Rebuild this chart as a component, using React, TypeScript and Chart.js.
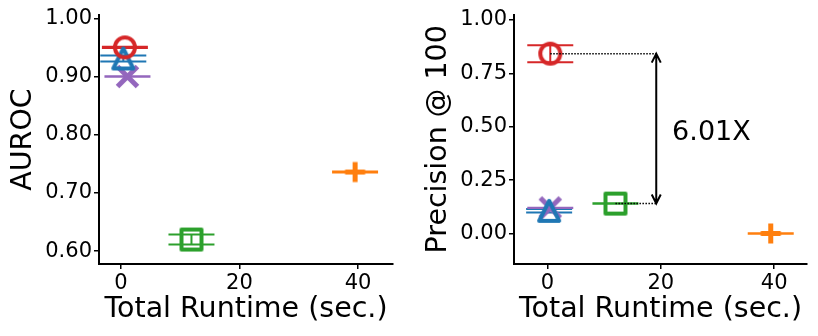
import React, { useEffect, useRef } from 'react';
import { Chart, registerables } from 'chart.js';

Chart.register(...registerables);

// ---- data ----
const SERIES_NAMES = ['Method A', 'Method B', 'Method C', 'Method D', 'Method E'];
const SERIES_COLORS = ['#d62728', '#1f77b4', '#9467bd', '#2ca02c', '#ff7f0e'];
const SERIES_MARKERS = ['circle', 'triangle', 'x', 'square', 'plus'];

const AUROC_RUNTIME = [0.67, 0.4, 1.1, 11.9, 39.5];
const AUROC_VALUES = [0.95, 0.931, 0.9, 0.62, 0.736];
const AUROC_ERRORS = [0.001, 0.005, 0.0005, 0.0085, 0.001];

const PREC_RUNTIME = [0.5, 0.3, 0.5, 12.0, 39.4];
const PREC_VALUES = [0.842, 0.106, 0.12, 0.14, 0.0];
const PREC_ERRORS = [0.04, 0.008, 0.001, 0.001, 0.001];

const X_TICKS = [0, 20, 40];
const AUROC_TICKS = [0.6, 0.7, 0.8, 0.9, 1.0];
const PREC_TICKS = [0, 0.25, 0.5, 0.75, 1.0];

const X_TITLE = 'Total Runtime (sec.)';
const AUROC_TITLE = 'AUROC';
const PREC_TITLE = 'Precision @ 100';

const SPEEDUP_LABEL = '6.01X';
const SPEEDUP_ARROW_X = 19.2;
const SPEEDUP_LABEL_X = 22.0;
const SPEEDUP_LABEL_Y = 0.47;

const FONT = "'DejaVu Sans', sans-serif";

function makeMarker(kind: string, color: string): HTMLCanvasElement {
  const S = 20;
  const lw = kind === 'x' || kind === 'plus' ? 5 : 4;
  const dim = Math.ceil(S + lw + 6);
  const c = document.createElement('canvas');
  c.width = dim;
  c.height = dim;
  const ctx = c.getContext('2d')!;
  ctx.strokeStyle = color;
  ctx.lineWidth = lw;
  ctx.lineJoin = 'round';
  ctx.lineCap = 'butt';
  const m = dim / 2;
  const h = S / 2;
  ctx.beginPath();
  if (kind === 'circle') {
    ctx.arc(m, m, h, 0, Math.PI * 2);
  } else if (kind === 'triangle') {
    ctx.moveTo(m, m - h);
    ctx.lineTo(m + h, m + h);
    ctx.lineTo(m - h, m + h);
    ctx.closePath();
  } else if (kind === 'square') {
    ctx.rect(m - h, m - h, S, S);
  } else if (kind === 'x') {
    ctx.moveTo(m - h, m - h);
    ctx.lineTo(m + h, m + h);
    ctx.moveTo(m + h, m - h);
    ctx.lineTo(m - h, m + h);
  } else {
    ctx.moveTo(m - h, m);
    ctx.lineTo(m + h, m);
    ctx.moveTo(m, m - h);
    ctx.lineTo(m, m + h);
  }
  ctx.stroke();
  return c;
}

const errorBarPlugin = {
  id: 'errorBars',
  beforeDatasetsDraw(chart: any) {
    const { ctx } = chart;
    const xs = chart.scales.x;
    const ys = chart.scales.y;
    ctx.save();
    chart.data.datasets.forEach((ds: any) => {
      const err = ds.yErr as number;
      ds.data.forEach((p: any) => {
        const px = xs.getPixelForValue(p.x);
        const top = ys.getPixelForValue(p.y + err);
        const bot = ys.getPixelForValue(p.y - err);
        ctx.strokeStyle = ds.borderColor;
        ctx.lineWidth = 2;
        ctx.lineCap = 'butt';
        ctx.beginPath();
        ctx.moveTo(px, top);
        ctx.lineTo(px, bot);
        const cap = 23;
        ctx.moveTo(px - cap, top);
        ctx.lineTo(px + cap, top);
        ctx.moveTo(px - cap, bot);
        ctx.lineTo(px + cap, bot);
        ctx.stroke();
      });
    });
    ctx.restore();
  },
};

const speedupPlugin = {
  id: 'speedup',
  afterDatasetsDraw(chart: any) {
    const { ctx } = chart;
    const xs = chart.scales.x;
    const ys = chart.scales.y;
    const ax = xs.getPixelForValue(SPEEDUP_ARROW_X);
    const x1 = xs.getPixelForValue(PREC_RUNTIME[0]);
    const y1 = ys.getPixelForValue(PREC_VALUES[0]);
    const x2 = xs.getPixelForValue(PREC_RUNTIME[3]);
    const y2 = ys.getPixelForValue(PREC_VALUES[3]);
    ctx.save();
    ctx.strokeStyle = '#000';
    ctx.lineWidth = 1.5;
    ctx.setLineDash([1.5, 1.5]);
    ctx.beginPath();
    ctx.moveTo(x1, y1);
    ctx.lineTo(ax, y1);
    ctx.moveTo(x2, y2);
    ctx.lineTo(ax, y2);
    ctx.stroke();
    ctx.setLineDash([]);
    ctx.lineWidth = 2;
    ctx.beginPath();
    ctx.moveTo(ax, y1);
    ctx.lineTo(ax, y2);
    const hw = 4.5;
    const hl = 9;
    ctx.moveTo(ax - hw, y1 + hl);
    ctx.lineTo(ax, y1);
    ctx.lineTo(ax + hw, y1 + hl);
    ctx.moveTo(ax - hw, y2 - hl);
    ctx.lineTo(ax, y2);
    ctx.lineTo(ax + hw, y2 - hl);
    ctx.stroke();
    ctx.fillStyle = '#000';
    ctx.font = `27px ${FONT}`;
    ctx.textAlign = 'left';
    ctx.textBaseline = 'middle';
    ctx.fillText(SPEEDUP_LABEL, xs.getPixelForValue(SPEEDUP_LABEL_X), ys.getPixelForValue(SPEEDUP_LABEL_Y));
    ctx.restore();
  },
};

type PanelSpec = {
  xs: number[];
  ys: number[];
  errs: number[];
  yTicks: number[];
  xMin: number;
  xMax: number;
  yMin: number;
  yMax: number;
  yTitle: string;
  yWidth: number;
  padTop: number;
  padRight: number;
  yTitlePad: number;
  plugins: any[];
};

function buildConfig(spec: PanelSpec): any {
  const datasets = SERIES_NAMES.map((name, i) => ({
    label: name,
    data: [{ x: spec.xs[i], y: spec.ys[i] }],
    yErr: spec.errs[i],
    borderColor: SERIES_COLORS[i],
    backgroundColor: SERIES_COLORS[i],
    pointStyle: makeMarker(SERIES_MARKERS[i], SERIES_COLORS[i]),
    pointRadius: 10,
  }));
  const tickFont = { family: FONT, size: 21 };
  const titleFont = { family: FONT, size: 28.5 };
  const grid = {
    drawOnChartArea: false,
    drawTicks: true,
    tickLength: 5,
    color: '#000',
    lineWidth: 1.5,
  };
  const border = { display: true, color: '#000', width: 2 };
  return {
    type: 'scatter',
    data: { datasets },
    options: {
      responsive: false,
      animation: false,
      devicePixelRatio: 1,
      layout: { padding: { left: 0, right: spec.padRight, top: spec.padTop, bottom: 0 } },
      plugins: { legend: { display: false }, tooltip: { enabled: false } },
      scales: {
        x: {
          type: 'linear',
          min: spec.xMin,
          max: spec.xMax,
          afterBuildTicks: (s: any) => {
            s.ticks = X_TICKS.map((v) => ({ value: v }));
          },
          afterFit: (s: any) => {
            s.height = 72;
          },
          ticks: { font: tickFont, color: '#000', padding: 2, maxRotation: 0, callback: (v: any) => String(v) },
          grid,
          border,
          title: { display: true, text: X_TITLE, font: titleFont, color: '#000', padding: { top: 0, bottom: 9 } },
        },
        y: {
          type: 'linear',
          min: spec.yMin,
          max: spec.yMax,
          afterBuildTicks: (s: any) => {
            s.ticks = spec.yTicks.map((v) => ({ value: v }));
          },
          afterFit: (s: any) => {
            s.width = spec.yWidth;
          },
          ticks: { font: tickFont, color: '#000', padding: 2, callback: (v: any) => Number(v).toFixed(2) },
          grid,
          border,
          title: { display: true, text: spec.yTitle, font: titleFont, color: '#000', padding: { top: spec.yTitlePad, bottom: 0 } },
        },
      },
    },
    plugins: [errorBarPlugin, ...spec.plugins],
  };
}

export default function App() {
  const leftRef = useRef<HTMLCanvasElement>(null);
  const rightRef = useRef<HTMLCanvasElement>(null);

  useEffect(() => {
    const left = new Chart(
      leftRef.current!,
      buildConfig({
        xs: AUROC_RUNTIME,
        ys: AUROC_VALUES,
        errs: AUROC_ERRORS,
        yTicks: AUROC_TICKS,
        xMin: -3.7,
        xMax: 45.9,
        yMin: 0.578,
        yMax: 1.0057,
        yTitle: AUROC_TITLE,
        yWidth: 99,
        padTop: 15,
        padRight: 12,
        yTitlePad: 6,
        plugins: [],
      })
    );
    const right = new Chart(
      rightRef.current!,
      buildConfig({
        xs: PREC_RUNTIME,
        ys: PREC_VALUES,
        errs: PREC_ERRORS,
        yTicks: PREC_TICKS,
        xMin: -5.9,
        xMax: 45.8,
        yMin: -0.143,
        yMax: 1.025,
        yTitle: PREC_TITLE,
        yWidth: 104,
        padTop: 13,
        padRight: 10,
        yTitlePad: 11,
        plugins: [speedupPlugin],
      })
    );
    return () => {
      left.destroy();
      right.destroy();
    };
  }, []);

  return (
    <div style={{ position: 'fixed', left: 0, top: 0, width: 818, height: 336, background: '#fff' }}>
      <canvas ref={leftRef} width={405} height={336} style={{ position: 'absolute', left: 0, top: 0 }} />
      <canvas ref={rightRef} width={408} height={336} style={{ position: 'absolute', left: 410, top: 0 }} />
    </div>
  );
}
